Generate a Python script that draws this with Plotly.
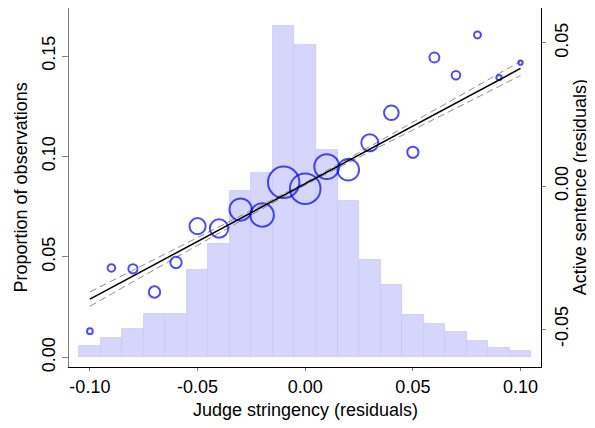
import plotly.graph_objects as go

# bins of judge stringency (residuals)
bin_centers = [-0.10, -0.09, -0.08, -0.07, -0.06, -0.05, -0.04, -0.03, -0.02, -0.01,
               0.00, 0.01, 0.02, 0.03, 0.04, 0.05, 0.06, 0.07, 0.08, 0.09, 0.10]
# share of observations per bin (histogram, left axis)
share_obs = [0.0055, 0.0095, 0.0140, 0.0216, 0.0215, 0.0433, 0.0563, 0.0827, 0.0920, 0.1650,
             0.1555, 0.1031, 0.0777, 0.0483, 0.0359, 0.0209, 0.0164, 0.0125, 0.0081, 0.0048, 0.0030]
# mean active sentence residual per bin (right axis)
active_resid = [-0.0507, -0.0286, -0.0289, -0.0370, -0.0267, -0.0140, -0.0148, -0.0082, -0.0101, 0.0013,
                -0.0009, 0.0068, 0.0057, 0.0151, 0.0256, 0.0118, 0.0449, 0.0387, 0.0528, 0.0379, 0.0431]

# linear fit and its confidence band
fit_x = [-0.10, 0.10]
fit_y = [-0.0395, 0.0411]
ci_x = [-0.10, -0.075, -0.05, -0.025, 0.0, 0.025, 0.05, 0.075, 0.10]
ci_upper = [-0.0370, -0.0275, -0.0180, -0.0085, 0.0013, 0.0117, 0.0223, 0.0329, 0.0436]
ci_lower = [-0.0420, -0.0313, -0.0207, -0.0101, 0.0003, 0.0101, 0.0196, 0.0291, 0.0386]

x_ticks = [-0.10, -0.05, 0.00, 0.05, 0.10]
x_labels = ["-0.10", "-0.05", "0.00", "0.05", "0.10"]
y_ticks = [0.00, 0.05, 0.10, 0.15]
y_labels = ["0.00", "0.05", "0.10", "0.15"]
y2_ticks = [-0.05, 0.00, 0.05]
y2_labels = ["-0.05", "0.00", "0.05"]

FONT = "Liberation Sans, Arial, sans-serif"

fig = go.Figure()

fig.add_trace(go.Bar(
    x=bin_centers, y=share_obs, width=0.01,
    marker=dict(color="rgb(214,214,252)", line=dict(color="rgb(200,200,246)", width=0.8)),
    showlegend=False,
))

# confidence band (dashed)
for band in (ci_upper, ci_lower):
    fig.add_trace(go.Scatter(x=ci_x, y=band, yaxis="y2", mode="lines", line_shape="spline",
                             line=dict(color="#8c8c8c", width=1, dash="7px,4px"), showlegend=False))

# binned means, circle area ~ share of observations
fig.add_trace(go.Scatter(
    x=bin_centers, y=active_resid, yaxis="y2", mode="markers",
    marker=dict(size=share_obs, sizemode="area", sizeref=1 / 3000, symbol="circle-open",
                color="#0000ff", line=dict(width=2, color="#0000ff")),
    showlegend=False,
))

fig.add_trace(go.Scatter(x=fit_x, y=fit_y, yaxis="y2", mode="lines",
                         line=dict(color="black", width=1.5), showlegend=False))

# page body adds 8px margin, so the figure is a bit smaller than the window
fig.update_layout(
    width=587, height=412,
    margin=dict(l=61, r=54.3, t=0, b=53.3),
    paper_bgcolor="white", plot_bgcolor="white",
    font=dict(family=FONT, size=18, color="black"),
    bargap=0,
    xaxis=dict(
        range=[-0.1097, 0.1095], tickvals=x_ticks, ticktext=x_labels,
        showline=True, linecolor="black", linewidth=1.2,
        ticks="outside", ticklen=3, tickcolor="#7f7f7f",
        showgrid=False, zeroline=False, automargin=False,
    ),
    yaxis=dict(
        range=[-0.0048, 0.1739], tickvals=y_ticks, ticktext=y_labels, tickangle=-90,
        showline=True, linecolor="#7f7f7f", linewidth=1.2,
        ticks="outside", ticklen=6, tickcolor="#7f7f7f",
        showgrid=False, zeroline=False, automargin=False,
    ),
    yaxis2=dict(
        overlaying="y", side="right",
        range=[-0.0632, 0.0622], tickvals=y2_ticks, ticktext=y2_labels, tickangle=-90,
        showline=True, linecolor="black", linewidth=1.2,
        ticks="outside", ticklen=4, tickcolor="#7f7f7f",
        showgrid=False, zeroline=False, automargin=False,
    ),
    annotations=[
        dict(text="Judge stringency (residuals)", xref="paper", yref="paper",
             x=0.5, y=-0.1207, xanchor="center", yanchor="middle", showarrow=False),
        dict(text="Proportion of observations", xref="paper", yref="paper",
             x=-0.1018, y=0.5, xanchor="center", yanchor="middle", showarrow=False,
             textangle=-90),
        dict(text="Active sentence (residuals)", xref="paper", yref="paper",
             x=1.082, y=0.5, xanchor="center", yanchor="middle", showarrow=False,
             textangle=-90),
    ],
)

fig.write_html("out.html")
